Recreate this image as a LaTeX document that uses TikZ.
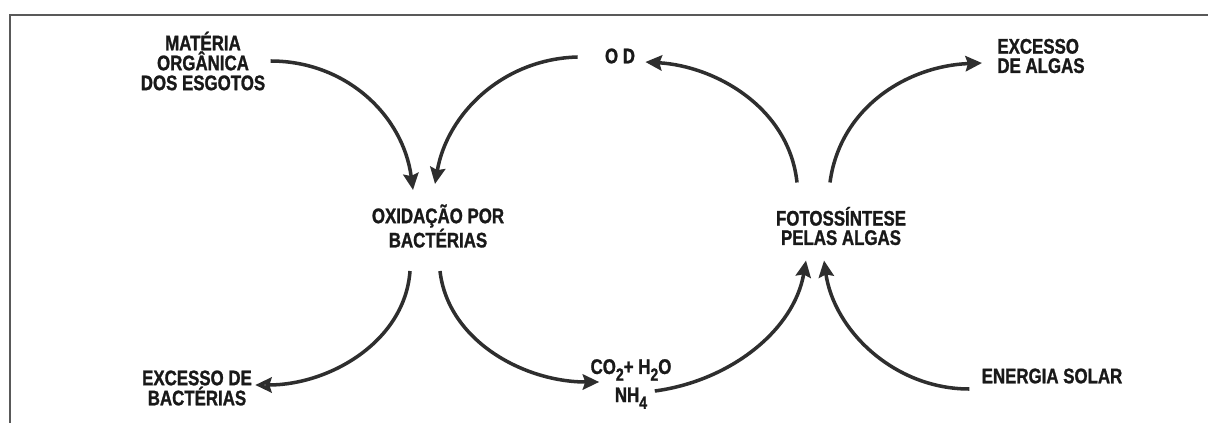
\documentclass[tikz,border=0pt]{standalone}
\usepackage{fontspec}
\setmainfont{Liberation Sans}[FakeStretch=0.8, FakeBold=1.2]
\usetikzlibrary{arrows.meta,calc}

\newcommand{\chemsub}[1]{\raisebox{-0.32em}{\fontsize{15}{15}\selectfont #1}}

\tikzstyle{every path} = [black!82]
\tikzstyle{every node} = [font=\bfseries\fontsize{18}{15.5}\selectfont, text=black!90, align=center, inner sep=1pt]
\tikzstyle{flow} = [line width=3pt, -{Stealth[length=14pt,width=13pt,inset=2pt]}]

\begin{document}
\begin{tikzpicture}[x=0.03cm, y=-0.03cm]
    \useasboundingbox (0,0) rectangle (1208,423);
    % Frame
    \draw[line width=1.3pt, black!65] (10,423) -- (10,15) -- (1208,15);

    % Labels
    \node (materia) at (203,61) [font=\bfseries\fontsize{18}{17}\selectfont] {MATÉRIA\\ORGÂNICA\\DOS ESGOTOS};
    \node (od) at (620,56) {O D};
    \node (algas) at (996,56) [anchor=west, align=left, font=\bfseries\fontsize{18}{16.5}\selectfont] {EXCESSO\\DE ALGAS};
    \node (oxid) at (438,226) {OXIDAÇÃO POR\\BACTÉRIAS};
    \node (foto) at (841,226) [font=\bfseries\fontsize{18}{16.5}\selectfont] {FOTOSSÍNTESE\\PELAS ALGAS};
    \node (bact) at (197,388) {EXCESSO DE\\BACTÉRIAS};
    \node (co2) at (631,384) [font=\bfseries\fontsize{18}{24}\selectfont] {CO\chemsub{2}+ H\chemsub{2}O\\NH\chemsub{4}};
    \node (solar) at (1052,376) {ENERGIA SOLAR};

    % Left cycle
    \draw[flow] ($(materia.east)+(4,0)$) .. controls +(75,0) and +(-10,-75) .. ($(oxid.north)+(-25,-13)$);
    \draw[flow] ($(od.west)+(-26,1)$) .. controls +(-75,2) and +(12,-70) .. ($(oxid.north)+(-3,-19)$);
    \draw[flow, -{Stealth[length=14pt,width=13pt,inset=2pt,fill=black!55]}] ($(oxid.south)+(-28,22)$) .. controls +(-5,70) and +(75,0) .. ($(bact.east)+(2,-3)$);
    \draw[flow] ($(oxid.south)+(2,22)$) .. controls +(8,70) and +(-75,0) .. ($(co2.west)+(10,-2)$);

    % Right cycle
    \draw[flow] ($(foto.north)+(-44,-23)$) .. controls +(-8,-75) and +(70,4) .. ($(od.east)+(9,6)$);
    \draw[flow] ($(foto.north)+(-11,-23)$) .. controls +(10,-75) and +(-75,3) .. ($(algas.west)+(-14,7)$);
    \draw[flow] ($(co2.east)+(-18,7)$) .. controls +(75,-10) and +(-12,70) .. ($(foto.south)+(-35,14)$);
    \draw[flow] ($(solar.west)+(-11,13)$) .. controls +(-75,0) and +(10,70) .. ($(foto.south)+(-17,14)$);
\end{tikzpicture}
\end{document}
